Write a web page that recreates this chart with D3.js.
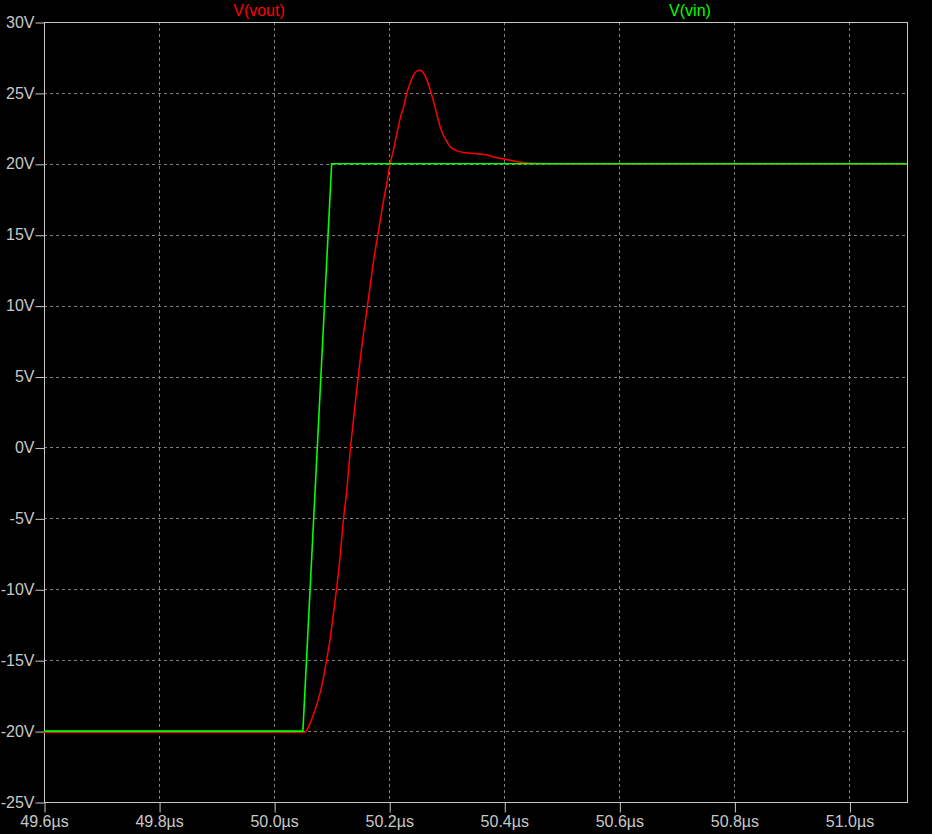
<!DOCTYPE html>
<html><head><meta charset="utf-8">
<script src="https://cdn.jsdelivr.net/npm/d3@7"></script>
<style>html,body{margin:0;padding:0;background:#000;}svg{display:block;}</style>
</head><body>
<script>
// Data
const xTicks = [49.6, 49.8, 50.0, 50.2, 50.4, 50.6, 50.8, 51.0];
const xTickLabels = ["49.6µs","49.8µs","50.0µs","50.2µs","50.4µs","50.6µs","50.8µs","51.0µs"];
const yTicks = [30, 25, 20, 15, 10, 5, 0, -5, -10, -15, -20, -25];
const yTickLabels = ["30V","25V","20V","15V","10V","5V","0V","-5V","-10V","-15V","-20V","-25V"];
const seriesNames = ["V(vout)", "V(vin)"];

const vinTime = [49.6, 50.05, 50.1, 51.1];
const vinValue = [-20, -20, 20, 20];

const voutTime = [49.6, 50.053, 50.065, 50.0766, 50.085, 50.092, 50.097, 50.1025, 50.1084, 50.1142,
  50.1207, 50.1259, 50.1328, 50.1391, 50.1461, 50.152, 50.1623, 50.1699, 50.1757, 50.1803,
  50.1856, 50.1901, 50.1948, 50.2017, 50.2075, 50.2134, 50.2191, 50.2249, 50.2308, 50.2365,
  50.2423, 50.2482, 50.2539, 50.2597, 50.2656, 50.2713, 50.277, 50.283, 50.2887, 50.2944,
  50.3003, 50.3061, 50.3148, 50.3292, 50.3525, 50.3699, 50.3873, 50.4017, 50.4221, 50.4395,
  50.4626, 50.5078, 51.1];
const voutValue = [-20.08, -20.08, -19.2, -17.8, -16.4, -14.8, -13.6, -11.9, -10, -7.9,
  -5, -3.2, 0, 2.4, 5, 7.0, 10, 12.3, 13.9, 15.0,
  16.3, 17.4, 18.4, 20.0, 21.0, 22.15, 23.2, 24.0, 25.0, 25.7,
  26.25, 26.55, 26.6, 26.4, 25.9, 25.2, 24.4, 23.45, 22.6, 22.0,
  21.56, 21.2, 20.97, 20.8, 20.71, 20.62, 20.43, 20.32, 20.15, 20.06,
  20.03, 19.99, 19.99];

const W = 932, H = 834;
const L = 44, R = 907, T = 22, B = 802;
const svg = d3.select("body").append("svg").attr("width", W).attr("height", H)
  .style("background", "#000");

const x = d3.scaleLinear().domain([49.6, 51.1]).range([L, R]);
const y = d3.scaleLinear().domain([-25, 30]).range([B, T]);

const axisColor = "#c8c8c8";
const gridColor = "#808080";
const font = "'Liberation Sans', Arial, sans-serif";

// grid
const grid = svg.append("g");
xTicks.filter(v => v > 49.6).forEach(v => {
  grid.append("line").attr("x1", Math.round(x(v)) + 0.5).attr("x2", Math.round(x(v)) + 0.5)
    .attr("y1", T).attr("y2", B).attr("stroke", gridColor).attr("stroke-dasharray", "3,3");
});
yTicks.filter(v => v < 30 && v > -25).forEach(v => {
  grid.append("line").attr("y1", Math.round(y(v)) + 0.5).attr("y2", Math.round(y(v)) + 0.5)
    .attr("x1", L).attr("x2", R).attr("stroke", gridColor).attr("stroke-dasharray", "3,3");
});

// axes
const xAxis = d3.axisBottom(x).tickValues(xTicks).tickFormat((d, i) => xTickLabels[i]).tickSize(10).tickSizeOuter(0);
const yAxis = d3.axisLeft(y).tickValues(yTicks).tickFormat((d, i) => yTickLabels[i]).tickSize(9).tickSizeOuter(0);

const gx = svg.append("g").attr("transform", `translate(0,${B + 0.5})`).call(xAxis);
const gy = svg.append("g").attr("transform", `translate(${L + 0.5},0)`).call(yAxis);
[gx, gy].forEach(g => {
  g.select(".domain").remove();
  g.selectAll("line").attr("stroke", axisColor);
  g.selectAll("text").attr("fill", axisColor).style("font-family", font).style("font-size", "16px");
});
gx.selectAll("text").attr("y", 13);
gy.selectAll("text").attr("x", -10);
gx.selectAll(".tick line").attr("transform", "translate(0.5,0)");
gy.selectAll(".tick line").attr("transform", "translate(0,0.5)");

// frame
svg.append("rect").attr("x", L + 0.5).attr("y", T + 0.5).attr("width", R - L).attr("height", B - T)
  .attr("fill", "none").attr("stroke", axisColor);

// series
const vin = vinTime.map((t, i) => [t, vinValue[i]]);
const vout = voutTime.map((t, i) => [t, voutValue[i]]);

svg.append("path").datum(vout).attr("d", d3.line().x(d => x(d[0])).y(d => y(d[1])).curve(d3.curveMonotoneX))
  .attr("fill", "none").attr("stroke", "#ff0000").attr("stroke-width", 1.5);
svg.append("path").datum(vin).attr("d", d3.line().x(d => x(d[0])).y(d => y(d[1])).curve(d3.curveLinear))
  .attr("fill", "none").attr("stroke", "#00ff00").attr("stroke-width", 1.6);

// legend titles
svg.append("text").attr("x", 259).attr("y", 16).attr("text-anchor", "middle")
  .attr("fill", "#ff0000").style("font-family", font).style("font-size", "16px").text(seriesNames[0]);
svg.append("text").attr("x", 690).attr("y", 16).attr("text-anchor", "middle")
  .attr("fill", "#00ff00").style("font-family", font).style("font-size", "16px").text(seriesNames[1]);
</script>
</body></html>
